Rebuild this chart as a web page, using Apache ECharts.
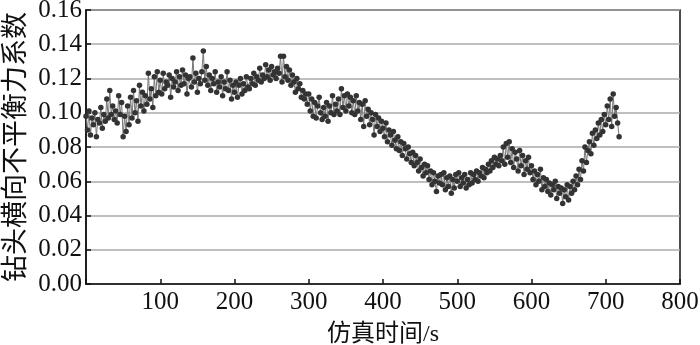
<!DOCTYPE html>
<html>
<head>
<meta charset="utf-8">
<script src="https://cdn.jsdelivr.net/npm/echarts@6/dist/echarts.min.js"></script>
<style>
html, body { margin: 0; padding: 0; background: #fff; }
#chart { width: 700px; height: 345px; }
</style>
</head>
<body>
<div id="chart"></div>
<script>
// 仿真时间步长 (s)
var timeStep = 2;
// 钻头横向不平衡力系数, 每2s一个点 (每行20s)
var coefValues = [
    0.098, 0.090, 0.101, 0.087, 0.097, 0.093, 0.100, 0.086, 0.096, 0.094,
    0.103, 0.091, 0.099, 0.095, 0.108, 0.097, 0.113, 0.099, 0.104, 0.096,
    0.101, 0.094, 0.110, 0.099, 0.106, 0.086, 0.098, 0.089, 0.104, 0.093,
    0.109, 0.097, 0.113, 0.100, 0.107, 0.095, 0.116, 0.104, 0.112, 0.101,
    0.110, 0.105, 0.123, 0.108, 0.114, 0.103, 0.121, 0.110, 0.124, 0.112,
    0.119, 0.111, 0.123, 0.114, 0.118, 0.116, 0.122, 0.109, 0.120, 0.115,
    0.118, 0.124, 0.113, 0.121, 0.116, 0.125, 0.117, 0.122, 0.111, 0.120,
    0.121, 0.115, 0.132, 0.118, 0.123, 0.112, 0.120, 0.117, 0.124, 0.136,
    0.119, 0.127, 0.116, 0.122, 0.113, 0.120, 0.117, 0.124, 0.112, 0.118,
    0.115, 0.121, 0.110, 0.118, 0.114, 0.124, 0.113, 0.119, 0.108, 0.116,
    0.112, 0.118, 0.109, 0.116, 0.120, 0.111, 0.117, 0.113, 0.121, 0.115,
    0.114, 0.120, 0.117, 0.123, 0.116, 0.121, 0.119, 0.126, 0.118, 0.122,
    0.120, 0.128, 0.121, 0.125, 0.119, 0.127, 0.122, 0.124, 0.120, 0.126,
    0.123, 0.133, 0.118, 0.133, 0.121, 0.127, 0.119, 0.125, 0.116, 0.122,
    0.118, 0.112, 0.120, 0.114, 0.117, 0.109, 0.113, 0.108, 0.111, 0.105,
    0.111, 0.101, 0.108, 0.098, 0.106, 0.097, 0.104, 0.109, 0.100, 0.096,
    0.103, 0.098, 0.106, 0.095, 0.104, 0.100, 0.110, 0.099, 0.105, 0.101,
    0.108, 0.099, 0.114, 0.103, 0.110, 0.101, 0.111, 0.104, 0.109, 0.100,
    0.107, 0.099, 0.110, 0.101, 0.106, 0.096, 0.105, 0.092, 0.107, 0.098,
    0.102, 0.093, 0.100, 0.096, 0.087, 0.099, 0.092, 0.097, 0.089, 0.095,
    0.091, 0.086, 0.094, 0.083, 0.090, 0.087, 0.081, 0.089, 0.084, 0.079,
    0.086, 0.078, 0.083, 0.075, 0.082, 0.079, 0.073, 0.080, 0.076, 0.071,
    0.077, 0.069, 0.075, 0.071, 0.066, 0.073, 0.068, 0.063, 0.070, 0.065,
    0.069, 0.061, 0.066, 0.058, 0.065, 0.060, 0.054, 0.063, 0.059, 0.064,
    0.058, 0.065, 0.055, 0.062, 0.057, 0.063, 0.053, 0.061, 0.056, 0.064,
    0.060, 0.065, 0.057, 0.062, 0.059, 0.064, 0.056, 0.061, 0.058, 0.065,
    0.059, 0.064, 0.061, 0.066, 0.060, 0.065, 0.063, 0.068, 0.062, 0.067,
    0.065, 0.070, 0.066, 0.072, 0.068, 0.074, 0.070, 0.073, 0.069, 0.075,
    0.072, 0.080, 0.070, 0.082, 0.074, 0.083, 0.071, 0.079, 0.068, 0.077,
    0.073, 0.066, 0.078, 0.069, 0.075, 0.064, 0.072, 0.067, 0.074, 0.065,
    0.069, 0.061, 0.066, 0.058, 0.064, 0.060, 0.067, 0.055, 0.062, 0.057,
    0.061, 0.054, 0.059, 0.052, 0.058, 0.055, 0.060, 0.050, 0.057, 0.053,
    0.056, 0.047, 0.055, 0.051, 0.058, 0.049, 0.057, 0.053, 0.060, 0.055,
    0.063, 0.058, 0.067, 0.061, 0.072, 0.066, 0.080, 0.071, 0.078, 0.083,
    0.076, 0.088, 0.081, 0.090, 0.085, 0.094, 0.087, 0.096, 0.089, 0.099,
    0.093, 0.104, 0.096, 0.108, 0.092, 0.111, 0.098, 0.103, 0.094, 0.086
];
var xTicks = [0, 100, 200, 300, 400, 500, 600, 700, 800];
var yTicks = [0, 0.02, 0.04, 0.06, 0.08, 0.10, 0.12, 0.14, 0.16];

var seriesData = [];
for (var i = 0; i < coefValues.length; i++) {
    seriesData.push([i * timeStep, coefValues[i]]);
}

var serif = '"Liberation Serif", "Noto Sans CJK SC", serif';
var oChart = echarts.init(document.getElementById('chart'), null, { renderer: 'canvas' });
var chartopt = {
    animation: false,
    backgroundColor: '#fff',
    grid: {
        show: true,
        left: 86,
        right: 20,
        top: 10,
        bottom: 61,
        outerBoundsMode: 'none',
        containLabel: false,
        borderColor: '#111',
        borderWidth: 1.5,
        backgroundColor: 'transparent'
    },
    xAxis: {
        type: 'value',
        min: xTicks[0],
        max: xTicks[xTicks.length - 1],
        interval: 100,
        name: '仿真时间/s',
        nameLocation: 'middle',
        nameGap: 39,
        nameTextStyle: { fontFamily: serif, fontSize: 24, color: '#111' },
        axisLine: { show: true, lineStyle: { color: '#111', width: 1.5 } },
        axisTick: { show: true, inside: true, length: 5, lineStyle: { color: '#111', width: 1.5 } },
        axisLabel: {
            fontFamily: serif, fontSize: 25, color: '#111', margin: 6,
            formatter: function (v) { return v === 0 ? '' : String(v); }
        },
        splitLine: { show: false }
    },
    yAxis: {
        type: 'value',
        min: yTicks[0],
        max: yTicks[yTicks.length - 1],
        interval: 0.02,
        name: '钻头横向不平衡力系数',
        nameLocation: 'middle',
        nameGap: 58,
        nameTextStyle: { fontFamily: '"Noto Sans CJK SC", serif', fontSize: 27, color: '#111' },
        axisLine: { show: true, lineStyle: { color: '#111', width: 1.5 } },
        axisTick: { show: true, inside: true, length: 5, lineStyle: { color: '#111', width: 1.5 } },
        axisLabel: {
            fontFamily: serif, fontSize: 25, color: '#111', margin: 4,
            formatter: function (v) { return v.toFixed(2); }
        },
        splitLine: { show: true, lineStyle: { color: '#aaa', width: 1.5 } }
    },
    series: [{
        name: '不平衡力系数',
        type: 'line',
        data: seriesData,
        symbol: 'circle',
        symbolSize: 5.5,
        itemStyle: { color: '#333' },
        lineStyle: { color: '#777', width: 1 },
        z: 3
    }]
};
oChart.setOption(chartopt);
</script>
</body>
</html>
